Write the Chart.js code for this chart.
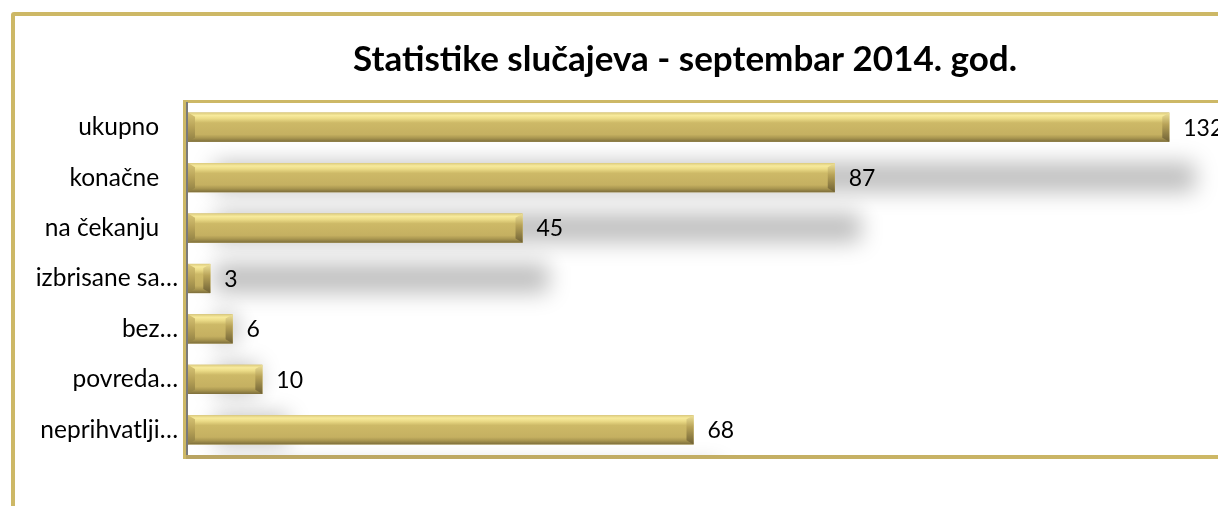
<!DOCTYPE html>
<html>
<head>
<meta charset="utf-8">
<script src="https://cdn.jsdelivr.net/npm/chart.js@4.4.1/dist/chart.umd.min.js"></script>
<style>
  html, body { margin: 0; padding: 0; background: #fff; overflow: hidden; width: 1218px; height: 506px; }
  #frame { position: absolute; left: 11px; top: 12px; width: 1300px; height: 600px; border: 4px solid #cdb866; border-radius: 3px; box-sizing: border-box; }
  #wrap { position: absolute; left: 0; top: 0; width: 1370px; height: 506px; }
</style>
</head>
<body>
<div id="frame"></div>
<div id="wrap"><canvas id="graph" width="1370" height="506"></canvas></div>
<script>
// podaci
var categories = ["ukupno   ", "konačne   ", "na čekanju   ", "izbrisane sa…", "bez…", "povreda…", "neprihvatlji…"];
var values = [132, 87, 45, 3, 6, 10, 68];
var chartTitle = "Statistike slučajeva - septembar 2014. god.";

var fontFamily = "Lato, 'Open Sans', sans-serif";
var gold = "#c9b566";

// senke, ivice i natpisi vrednosti
var goldBars = {
  id: "goldBars",
  beforeDatasetDraw: function(chart) {
    var ctx = chart.ctx;
    ctx.save();
    ctx.shadowColor = "rgba(0,0,0,0.26)";
    ctx.shadowBlur = 22;
    ctx.shadowOffsetX = 26;
    ctx.shadowOffsetY = 50;
  },
  afterDatasetDraw: function(chart) {
    chart.ctx.restore();
  },
  afterDatasetsDraw: function(chart) {
    var ctx = chart.ctx;
    var area = chart.chartArea;
    var meta = chart.getDatasetMeta(0);

    meta.data.forEach(function(bar, i) {
      var p = bar.getProps(["x", "y", "base", "height"], true);
      var L = p.base, R = p.x, T = p.y - p.height / 2, B = p.y + p.height / 2;
      var b = Math.min(7, (R - L) / 2);

      var g = ctx.createLinearGradient(0, T, 0, B);
      g.addColorStop(0, "#dccb7e");
      g.addColorStop(0.1, "#f7ea9c");
      g.addColorStop(0.2, "#ecdc88");
      g.addColorStop(0.35, "#cdb967");
      g.addColorStop(0.75, "#c5b061");
      g.addColorStop(0.87, "#a99650");
      g.addColorStop(1, "#7c6d3b");
      ctx.fillStyle = g;
      ctx.fillRect(L, T, R - L, B - T);

      // desni kraj
      var gr = ctx.createLinearGradient(0, T, 0, B);
      gr.addColorStop(0, "#efe29a");
      gr.addColorStop(0.4, "#b8a358");
      gr.addColorStop(1, "#6f6135");
      ctx.fillStyle = gr;
      ctx.beginPath();
      ctx.moveTo(R - b, T + b * 0.6);
      ctx.lineTo(R, T);
      ctx.lineTo(R, B);
      ctx.lineTo(R - b, B - b * 0.6);
      ctx.closePath();
      ctx.fill();

      // levi kraj
      var gl = ctx.createLinearGradient(0, T, 0, B);
      gl.addColorStop(0, "#d8c576");
      gl.addColorStop(0.5, "#b7a257");
      gl.addColorStop(1, "#8e7e44");
      ctx.fillStyle = gl;
      ctx.beginPath();
      ctx.moveTo(L, T);
      ctx.lineTo(L + b, T + b * 0.6);
      ctx.lineTo(L + b, B - b * 0.6);
      ctx.lineTo(L, B);
      ctx.closePath();
      ctx.fill();
    });

    // okvir oblasti crteža
    ctx.save();
    ctx.strokeStyle = "#cdb866";
    ctx.lineWidth = 3;
    ctx.beginPath();
    ctx.moveTo(area.left - 3, area.top - 0.5);
    ctx.lineTo(chart.width, area.top - 0.5);
    ctx.stroke();
    var gb = ctx.createLinearGradient(area.left, 0, 1218, 0);
    gb.addColorStop(0, "#b9a462");
    gb.addColorStop(1, "#cdb866");
    ctx.strokeStyle = gb;
    ctx.lineWidth = 4;
    ctx.beginPath();
    ctx.moveTo(area.left - 4, area.bottom + 2);
    ctx.lineTo(chart.width, area.bottom + 2);
    ctx.stroke();
    ctx.strokeStyle = "#cdb866";
    ctx.lineWidth = 3;
    ctx.beginPath();
    ctx.moveTo(area.left - 3.5, area.top - 2);
    ctx.lineTo(area.left - 3.5, area.bottom + 4);
    ctx.stroke();
    ctx.strokeStyle = "#7a7a7a";
    ctx.lineWidth = 2;
    ctx.beginPath();
    ctx.moveTo(area.left - 1, area.top);
    ctx.lineTo(area.left - 1, area.bottom);
    ctx.stroke();

    // vrednosti
    ctx.fillStyle = "#000";
    ctx.font = "23px " + fontFamily;
    ctx.textBaseline = "middle";
    ctx.textAlign = "left";
    meta.data.forEach(function(bar, i) {
      ctx.fillText(String(values[i]), bar.x + 14, bar.y + 1);
    });
    ctx.restore();
  }
};

var ctx = document.getElementById("graph").getContext("2d");
var chart = new Chart(ctx, {
  type: "bar",
  data: {
    labels: categories,
    datasets: [{
      data: values,
      backgroundColor: gold,
      borderWidth: 0,
      barPercentage: 0.58,
      categoryPercentage: 1
    }]
  },
  options: {
    indexAxis: "y",
    responsive: false,
    animation: false,
    layout: { padding: { left: 0, right: 0, top: 39, bottom: 51 } },
    plugins: {
      legend: { display: false },
      tooltip: { enabled: false },
      title: {
        display: true,
        text: chartTitle,
        color: "#000",
        font: { family: fontFamily, size: 35, weight: "bold" },
        padding: { top: 0, bottom: 21 }
      }
    },
    scales: {
      x: { display: false, min: 0, max: 159 },
      y: {
        grid: { display: false, drawTicks: false },
        border: { display: false },
        ticks: { color: "#000", padding: 10, font: { family: fontFamily, size: 24.5 } },
        afterFit: function(scale) { scale.width = 188; }
      }
    }
  },
  plugins: [goldBars]
});
</script>
</body>
</html>
